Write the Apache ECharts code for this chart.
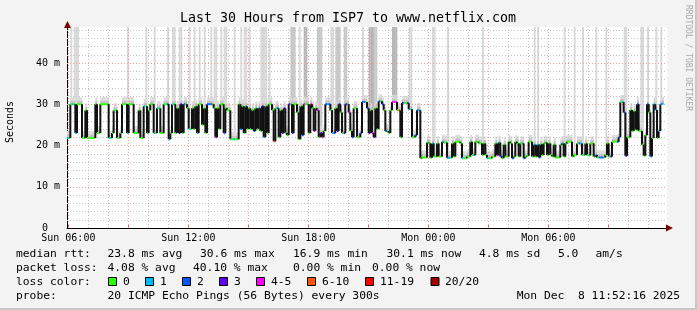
<!DOCTYPE html>
<html><head><meta charset="utf-8">
<script src="https://cdn.jsdelivr.net/npm/echarts@6/dist/echarts.min.js"></script>
<style>html,body{margin:0;padding:0;background:#f3f3f3}#c{width:697px;height:310px}</style>
</head><body><div id="c"></div>
<script>
// time in hours since Sun 00:00
const START_H = 5.9333;
const END_H = 35.9333;
const STEP_H = 1 / 12; // 300 s
const Y_MAX = 48.7;

const xLabelHours = [6, 12, 18, 24, 30];
const xLabelText = ['Sun 06:00', 'Sun 12:00', 'Sun 18:00', 'Mon 00:00', 'Mon 06:00'];
const xMajorHours = [6, 9, 12, 15, 18, 21, 24, 27, 30, 33];
const xMinorHours = [7, 8, 10, 11, 13, 14, 16, 17, 19, 20, 22, 23, 25, 26, 28, 29, 31, 32, 34, 35];
const yMajorTicks = [10, 20, 30, 40];
const yMinorTicks = [2, 4, 6, 8, 12, 14, 16, 18, 22, 24, 26, 28, 32, 34, 36, 38, 42, 44, 46, 48];

// median rtt (ms), one value per 300 s step
const median = [
21.8,21.8,30,30,30,23,30,30,30,21.8, 21.8,28.5,21.8,21.8,21.8,21.8,21.8,30,23,23,
30,30,30,30,30,21.8,21.8,23,28.5,28.5, 21.8,21.8,23,30,30,30,23,30,30,30,
23,23,23,28.5,21.8,21.8,29.5,29.5,23,28.5, 30,30,23,23,29,29,23,23,30,30,
30,21.5,23,30,30,23,29,23,30,23, 30,30,29,24,24,29,24,29.5,23,30,
30,25,29,23,30,30,30,30,29,22, 29,24,30,30,23,29,28.5,28.5,21.5,21.5,
21.5,21.5,21.5,30,24,29.5,23,29.5,24,29, 24,28.5,23.5,29,24,29,23.5,29.5,22,29.5,
23,30,30,28.5,21,29,29,22,28.5,23, 29,23,22.5,30,30,23,30,30,28,21.5,
29.5,22.5,30,30,30,23,30,29,23.5,29, 28.5,22,23,22,23.5,30,30,30,28.5,23,
23,29,23.5,30,28,23,23,30,30,28, 23.5,22,29,29,22,22,23,30.5,30.5,30.5,
29,23,28.5,23,22,29,24,30.7,30.7,30, 28.5,23.5,23.5,23,28.5,30.5,30.5,30.5,28.5,28.5,
22,30.3,30.3,30.3,30.3,28.8,28.8,22,22,22.5, 28.5,28.5,16.9,17.1,17.1,17.1,20.7,20.5,17,20.5,
17.3,17.3,20.5,17.3,17.3,20.9,20.7,20.7,17,17, 17,20.5,17.3,20.9,20.9,20.9,20.5,16.9,16.9,16.9,
17.3,17.3,20.9,17.7,17.7,20.9,20.9,20.5,20.5,17.7, 20.5,17.7,16.9,16.9,16.9,17.3,17.3,20.5,17.6,20.7,
17.3,16.9,20.2,17.3,17.3,20.9,20.5,16.9,17.3,20.9, 20.5,17.3,20.5,20.5,16.9,17.3,17.5,20.9,20.9,17.3,
20.2,17.3,20.2,17.1,20.3,17.7,20.5,20.7,17.7,20.5, 17.7,17.3,20.2,17.1,17.1,17.1,20.2,20.5,17.3,20.5,
20.9,20.9,20.9,17.3,17.7,17.7,20.5,20.5,20.5,17.7, 17.7,20.5,17.6,17.6,20.5,20.5,17.3,17.7,17.1,17.1,
17.1,17.1,17.1,17.7,20.5,17.3,17.3,20.9,20.9,20.9, 20.9,22,30.5,30.5,28,17.5,22,22,28.6,23.5,
28.3,23.8,30,23.5,23.5,20.2,17.5,22.5,30,28, 17.3,21.8,30,28.6,21.8,23.5,30,30.1
];

// steps with packet loss (number of lost pings out of 20)
const lossIdx = [0,3,5,25,36,46,52,54,
60,61,63,67,68,70,73,78,84,85,86,89,94,100,104,107,112,115,117,118,
124,126,129,130,133,135,141,142,146,148,150,152,153,155,156,157,159,160,162,163,166,167,169,171,176,177,178,
180,181,183,184,187,189,191,195,196,197,199,201,204,205,209,210,211,219,225,228,229,237,
244,252,258,259,260,267,273,274,280,282,283,297,
307,308,310,317,319,320,321,326,330,331,333,334,335,342,348,350,352,353,355,356,357];
const lossVal = [1,1,1,1,1,1,1,1,
2,1,1,3,3,2,1,1,2,2,2,4,2,1,2,1,2,2,3,1,
6,2,3,3,3,2,2,4,4,4,4,3,4,2,1,2,1,2,3,2,3,3,4,2,2,2,2,
2,3,4,3,2,2,2,4,4,4,6,3,2,2,2,2,1,1,1,2,1,1,
2,1,4,1,2,2,1,2,1,1,2,1,
2,1,1,1,2,2,2,3,2,2,1,2,3,2,2,1,1,1,1,1,1];

// smoke spikes (max ping) : step index, top value (ms), shade
const spikeIdx = [2,4,5,6,36,47,52,
60,63,64,67,68,73,76,79,82,86,88,89,92,94,95,100,104,106,107,109,116,117,118,119,
121,134,135,136,139,142,143,150,151,152,158,159,161,162,163,166,167,177,
181,182,183,184,185,195,196,197,205,206,219,220,228,
249,280,282,298,
304,309,317,323,334,335,344,345,348,353,356];
const spikeTop = [48.7,48.7,48.7,48.7,48.7,48.7,48.7,
48.7,48.7,48.7,48.7,48.7,48.7,48.7,48.7,48.7,48.7,48.7,48.7,48.7,48.7,48.7,48.7,48.7,48.7,48.7,48.7,48.7,48.7,48.7,48.7,
46,48.7,48.7,48.7,48.7,48.7,48.7,48.7,48.7,48.7,48.7,48.7,48.7,48.7,48.7,48.7,48.7,48.7,
48.7,48.7,48.7,48.7,48.7,48.7,48.7,48.7,48.7,48.7,48.7,48.7,48.7,
48.7,48.7,48.7,48.7,
48.7,48.7,48.7,48.7,48.7,48.7,48.7,48.7,48.7,48.7,48.7];
const spikeShade = [0,0,0,0,0,0,0,
0,0,0,0,0,0,0,0,0,0,0,0,0,0,0,0,0,0,0,0,0,0,0,0,
0,1,1,1,0,2,2,1,1,1,0,0,1,1,1,1,1,0,
2,2,2,1,1,2,2,2,0,0,0,0,0,
0,0,0,0,
0,0,0,0,0,0,0,0,0,0,0];

const lossLegend = ['0','1','2','3','4-5','6-10','11-19','20/20'];
const lossColors = ['#26ff00','#00b8ff','#0059ff','#5e00ff','#ff00ff','#ff5500','#ff0000','#a10000'];

function lossColorOf(i) {
  const k = lossIdx.indexOf(i);
  const l = k >= 0 ? lossVal[k] : 0;
  if (l <= 3) return lossColors[l];
  if (l <= 5) return lossColors[4];
  if (l <= 10) return lossColors[5];
  if (l <= 19) return lossColors[6];
  return lossColors[7];
}
const shadeColors = ['#d9d9d9', '#c8c8c8', '#b6b6b6'];

const chart = echarts.init(document.getElementById('c'), null, {renderer: 'canvas'});
const MONO = "'DejaVu Sans Mono', monospace";

function smokeItem(params, api) {
  const i = params.dataIndex;
  const m = median[i];
  const t0 = START_H + i * STEP_H, t1 = t0 + STEP_H;
  const a = api.coord([t0, m]), b = api.coord([t1, m + 0.8]), c = api.coord([t1, m + 1.7]);
  const w = b[0] - a[0] + 0.3;
  const ch = [];
  const k = spikeIdx.indexOf(i);
  if (k >= 0) {
    const top = api.coord([t1, spikeTop[k]]);
    ch.push({type: 'rect', shape: {x: a[0], y: top[1], width: w, height: a[1] - top[1]}, style: {fill: shadeColors[spikeShade[k]]}});
  }
  ch.push({type: 'rect', shape: {x: a[0], y: c[1], width: w, height: a[1] - c[1]}, style: {fill: '#dcdcdc'}});
  ch.push({type: 'rect', shape: {x: a[0], y: b[1], width: w, height: a[1] - b[1]}, style: {fill: '#c2c2c2'}});
  return {type: 'group', children: ch};
}

function medItem(params, api) {
  const i = params.dataIndex;
  const m = median[i];
  const t0 = START_H + i * STEP_H, t1 = t0 + STEP_H;
  const a = api.coord([t0, m]), b = api.coord([t1, m]);
  const ch = [];
  if (i > 0 && median[i - 1] !== m) {
    const p = api.coord([t0, median[i - 1]]);
    ch.push({type: 'line', shape: {x1: a[0], y1: p[1], x2: a[0], y2: a[1]}, style: {stroke: '#111', lineWidth: 2}});
  }
  ch.push({type: 'line', shape: {x1: a[0], y1: a[1], x2: b[0], y2: b[1]}, style: {stroke: lossColorOf(i), lineWidth: 2}});
  return {type: 'group', children: ch};
}

function vGridItem(list, color) {
  return function (params, api) {
    const h = list[params.dataIndex];
    const p0 = api.coord([h, 0]), p1 = api.coord([h, Y_MAX]);
    const x = Math.round(p0[0]) + 0.5;
    return {type: 'line', shape: {x1: x, y1: p0[1], x2: x, y2: p1[1]}, style: {stroke: color, lineWidth: 1, lineDash: [1, 2]}};
  };
}
function hGridItem(list, color) {
  return function (params, api) {
    const v = list[params.dataIndex];
    const p0 = api.coord([START_H, v]), p1 = api.coord([END_H, v]);
    const y = Math.round(p0[1]) + 0.5;
    return {type: 'line', shape: {x1: p0[0], y1: y, x2: p1[0], y2: y}, style: {stroke: color, lineWidth: 1, lineDash: [1, 2]}};
  };
}

const GRAY = '#c4c4c4', RED = '#f2a0a0';

const graphics = [];
function txt(x, y, s, opts) {
  graphics.push(Object.assign({type: 'text', x: x, y: y, style: Object.assign({text: s, font: '11.3px ' + MONO, fill: '#000', textVerticalAlign: 'middle'}, (opts && opts.style) || {})}, opts && opts.extra || {}));
}
// frame
graphics.push({type: 'rect', shape: {x: 695, y: 0, width: 2, height: 310}, style: {fill: '#c8c8c8'}});
graphics.push({type: 'rect', shape: {x: 0, y: 308, width: 697, height: 2}, style: {fill: '#c8c8c8'}});
// title
graphics.push({type: 'text', x: 348, y: 19, style: {text: 'Last 30 Hours from ISP7 to www.netflix.com', font: '13.3px ' + MONO, fill: '#000', textAlign: 'center', textVerticalAlign: 'middle'}});
// vertical axis name
graphics.push({type: 'text', x: 10, y: 122, rotation: Math.PI / 2, style: {text: 'Seconds', font: '10px ' + MONO, fill: '#000', textAlign: 'center', textVerticalAlign: 'middle'}});
// watermark
graphics.push({type: 'text', x: 688, y: 5, rotation: -Math.PI / 2, style: {text: 'RRDTOOL / TOBI OETIKER', font: '8px ' + MONO, fill: '#a8a8a8', textAlign: 'left', textVerticalAlign: 'middle'}});
// legend rows
const r1 = 254, r2 = 268, r3 = 282, r4 = 296.5;
txt(16, r1, 'median rtt:');
txt(107.5, r1, '23.8 ms avg');
txt(200, r1, '30.6 ms max');
txt(293, r1, '16.9 ms min');
txt(386.5, r1, '30.1 ms now');
txt(479, r1, '4.8 ms sd');
txt(558, r1, '5.0');
txt(595.5, r1, 'am/s');
txt(16, r2, 'packet loss:');
txt(107.5, r2, '4.08 % avg');
txt(193, r2, '40.10 % max');
txt(293, r2, '0.00 % min');
txt(372, r2, '0.00 % now');
txt(16, r3, 'loss color:');
const boxX = [108, 145, 182, 219, 256, 307, 365, 430.5];
const boxLabelX = [123, 160, 197, 234, 271, 322, 380, 445];
lossLegend.forEach((s, k) => {
  graphics.push({type: 'rect', shape: {x: boxX[k] + 0.5, y: r3 - 4.5, width: 8, height: 8}, style: {fill: lossColors[k], stroke: '#000', lineWidth: 1}});
  txt(boxLabelX[k], r3, s);
});
txt(16, r4, 'probe:');
txt(107.5, r4, '20 ICMP Echo Pings (56 Bytes) every 300s');
graphics.push({type: 'text', x: 680, y: r4, style: {text: 'Mon Dec  8 11:52:16 2025', font: '11.3px ' + MONO, fill: '#000', textAlign: 'right', textVerticalAlign: 'middle'}});

const option = {
  animation: false,
  backgroundColor: '#f3f3f3',
  grid: {left: 67, right: 30, top: 27, bottom: 82, show: true, backgroundColor: '#ffffff', borderWidth: 0},
  xAxis: {
    type: 'value', min: START_H, max: END_H,
    axisLine: {show: true, lineStyle: {color: '#000', width: 1}},
    axisTick: {show: true, customValues: xMajorHours, inside: true, length: 3, lineStyle: {color: '#e06060'}},
    axisLabel: {customValues: xLabelHours, margin: 5, color: '#000', fontFamily: 'DejaVu Sans Mono', fontSize: 10,
      formatter: v => { const k = xLabelHours.indexOf(Math.round(v)); return k >= 0 ? xLabelText[k] : ''; }},
    splitLine: {show: false}
  },
  yAxis: {
    type: 'value', min: 0, max: Y_MAX, interval: 10,
    axisLine: {show: true, lineStyle: {color: '#000', width: 1}},
    axisTick: {show: false},
    splitLine: {show: false},
    axisLabel: {margin: 7, color: '#000', fontFamily: 'DejaVu Sans Mono', fontSize: 10, showMaxLabel: false,
      formatter: v => (v === 0 ? '0  ' : (v % 10 === 0 ? v + ' m' : ''))}
  },
  graphic: graphics,
  series: [
    {type: 'custom', name: 'smoke', z: 2, clip: true, renderItem: smokeItem, data: median.map((m, i) => [START_H + i * STEP_H, m]), silent: true},
    {type: 'custom', name: 'gridMinorV', z: 3, renderItem: vGridItem(xMinorHours, GRAY), data: xMinorHours.map(h => [h, 0]), silent: true},
    {type: 'custom', name: 'gridMinorH', z: 3, renderItem: hGridItem(yMinorTicks, GRAY), data: yMinorTicks.map(v => [START_H, v]), silent: true},
    {type: 'custom', name: 'gridMajorV', z: 3, renderItem: vGridItem(xMajorHours, RED), data: xMajorHours.map(h => [h, 0]), silent: true},
    {type: 'custom', name: 'gridMajorH', z: 3, renderItem: hGridItem(yMajorTicks, RED), data: yMajorTicks.map(v => [START_H, v]), silent: true},
    {type: 'custom', name: 'median', z: 4, clip: true, renderItem: medItem, data: median.map((m, i) => [START_H + i * STEP_H, m]), silent: true}
  ]
};
chart.setOption(option);

// axis arrows (dark red), placed via the axes' scales
const yTop = chart.convertToPixel({gridIndex: 0}, [START_H, Y_MAX]);
const xEnd = chart.convertToPixel({gridIndex: 0}, [END_H, 0]);
const ax = Math.round(yTop[0]) + 0.5;
chart.setOption({graphic: graphics.concat([
  {type: 'polygon', shape: {points: [[ax, yTop[1] - 6], [ax - 3.5, yTop[1] + 1], [ax + 3.5, yTop[1] + 1]]}, style: {fill: '#7a0000'}, z: 10},
  {type: 'polygon', shape: {points: [[xEnd[0] + 6, xEnd[1]], [xEnd[0] - 1, xEnd[1] - 3.5], [xEnd[0] - 1, xEnd[1] + 3.5]]}, style: {fill: '#7a0000'}, z: 10}
])});
</script></body></html>
